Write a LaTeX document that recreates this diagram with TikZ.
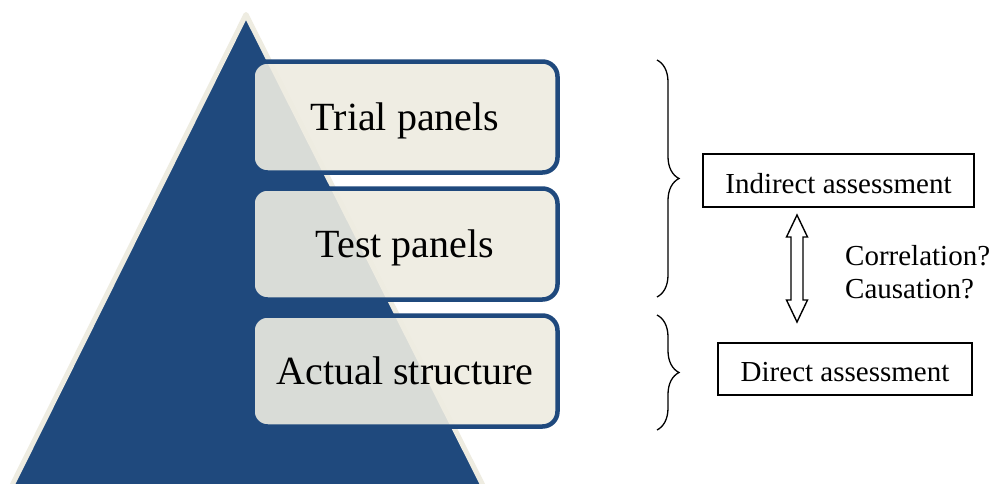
\documentclass[tikz,border=0pt]{standalone}
\usepackage{fontspec}
\setmainfont{Liberation Serif}
\usetikzlibrary{decorations.pathreplacing}
\definecolor{pyrblue}{HTML}{1F497D}
\definecolor{pyrbeige}{HTML}{EEECE1}
\tikzset{
  level/.style={draw=pyrblue, line width=4.5pt, rounded corners=15pt,
    fill=pyrbeige, fill opacity=0.9, text opacity=1,
    minimum width=305pt, minimum height=111pt, inner sep=0pt,
    text height=35pt, text depth=8pt,
    font=\fontsize{40}{48}\selectfont},
  assess/.style={draw=black, line width=1.4pt, inner sep=0pt,
    text height=25pt, text depth=0pt,
    font=\fontsize{29}{33}\selectfont},
  bracepath/.style={decorate, decoration={brace, amplitude=22pt},
    line width=1.3pt},
}
\begin{document}
\begin{tikzpicture}[x=1pt, y=-1pt]
\useasboundingbox (0,0) rectangle (994,483);
\fill[white] (0,0) rectangle (994,483);

% pyramid
\begin{scope}
  \clip (0,0) rectangle (994,483);
  \draw[fill=pyrblue, draw=pyrbeige, line width=5pt, line join=round]
    (246,14.5) -- (500.4,520) -- (-5.2,520) -- cycle;
\end{scope}

% pyramid levels
\node[level] (trial)  at (405,117) {Trial panels};
\node[level] (test)   at (405,244) {Test panels};
\node[level] (actual) at (405,371) {Actual structure};

% assessment boxes
\node[assess, minimum width=271pt, minimum height=53pt] (indirect) at (838.5,180.5) {Indirect assessment};
\node[assess, minimum width=254pt, minimum height=52pt] (direct) at (845,369) {Direct assessment};

% braces
\coordinate (b1top) at (657,60);
\coordinate (b1bot) at (657,297);
\coordinate (b2top) at (657,315);
\coordinate (b2bot) at (657,430);
\draw[bracepath] (b1top) -- (b1bot);
\draw[bracepath] (b2top) -- (b2bot);

% double arrow between the two assessments
\coordinate (arrtop) at (797,215);
\coordinate (arrbot) at (797,322);
\draw[line width=1.4pt, fill=white, line join=miter]
  (arrtop) -- ++(10.5,22) -- ++(-4.5,0) -- ++(0,63) -- ++(4.5,0)
  -- (arrbot) -- ++(-10.5,-22) -- ++(4.5,0) -- ++(0,-63) -- ++(-4.5,0) -- cycle;

\node[anchor=west, align=left, inner sep=0pt, font=\fontsize{29}{33}\selectfont]
  (question) at (845,272) {Correlation?\\Causation?};
\end{tikzpicture}
\end{document}
